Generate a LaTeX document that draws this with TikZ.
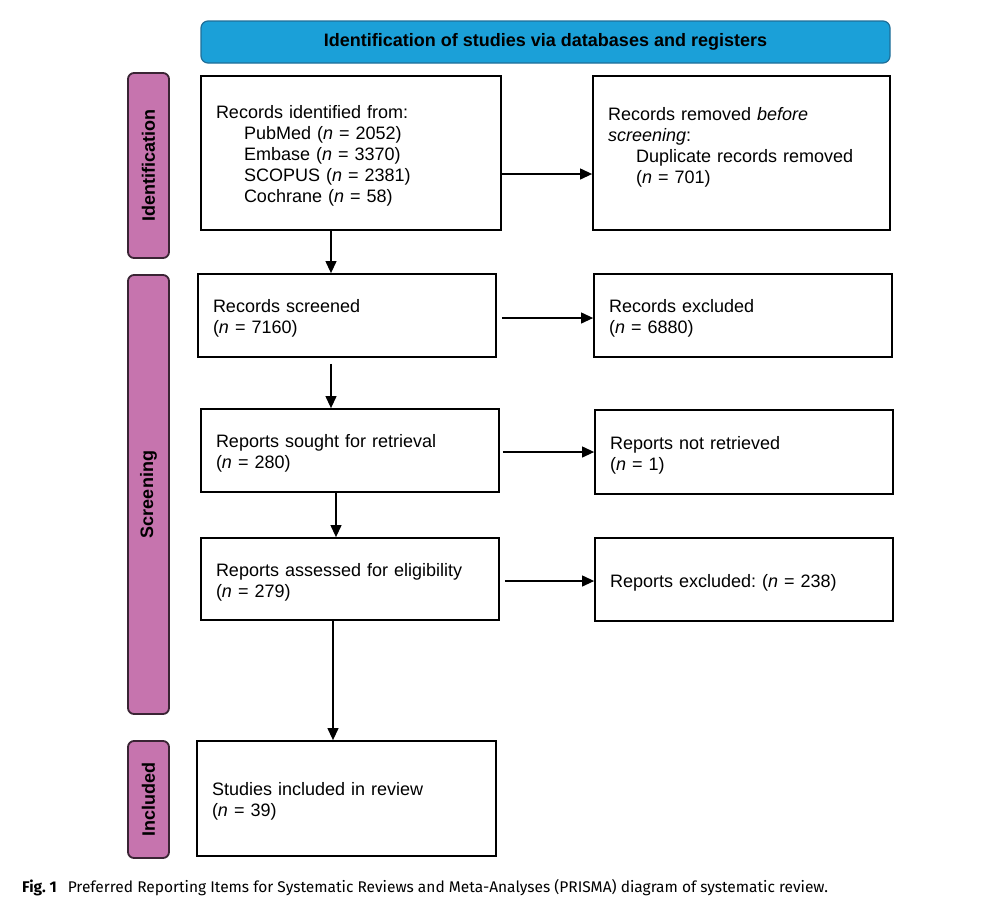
\documentclass[tikz,border=0pt]{standalone}
\usepackage{fontspec}
\setmainfont{Liberation Sans}
\newfontfamily\capfont{Fira Sans}
\usetikzlibrary{arrows.meta}
\definecolor{bannerblue}{HTML}{1BA0D8}
\definecolor{bannerline}{HTML}{1F6E98}
\definecolor{sidepurple}{HTML}{C674AE}
\definecolor{sideline}{HTML}{3A2434}
\frenchspacing
\tikzset{
  box/.style={draw=black, line width=1.8pt, fill=white, inner xsep=15pt, inner ysep=0pt,
    align=left, font=\fontsize{18}{21}\selectfont},
  side/.style={draw=sideline, line width=1.8pt, fill=sidepurple, rounded corners=6pt,
    minimum height=41pt, inner sep=0pt, rotate=90, font=\fontsize{18}{21}\selectfont\bfseries},
  banner/.style={draw=bannerline, line width=1.2pt, fill=bannerblue, rounded corners=7pt,
    minimum width=689pt, minimum height=42pt, inner sep=0pt, font=\fontsize{18}{21}\selectfont\bfseries},
  arr/.style={line width=1.2pt, -{Triangle[length=12pt,width=11pt]}},
}
\newcommand{\ind}{\hspace*{28pt}}
\newcommand{\tp}{\rule{0pt}{19.5pt}}
\begin{document}
\begin{tikzpicture}[x=1pt,y=-1pt]
\useasboundingbox (0,0) rectangle (988,914);
% banner
\node[banner] (ban) at (545.5,42) {Identification of studies via databases and registers};
% side labels
\node[side, minimum width=185pt] (sid) at (148.5,165.5) {Identification};
\node[side, minimum width=439pt] (sscr) at (148.5,494.5) {Screening};
\node[side, minimum width=117pt] (sinc) at (148.5,799.5) {Included};
% boxes
\node[box, text width=270pt, minimum height=154pt] (b1) at (351,153)
  {\tp Records identified from:\\
   \ind PubMed (\textit{n} = 2052)\\
   \ind Embase (\textit{n} = 3370)\\
   \ind SCOPUS (\textit{n} = 2381)\\
   \ind Cochrane (\textit{n} = 58)};
\node[box, text width=267pt, minimum height=154pt] (b2) at (741.5,153)
  {\tp Records removed \textit{before}\\
   \textit{screening}:\\
   \ind Duplicate records removed\\
   \ind (\textit{n} = 701)\\ \mbox{}};
\node[box, text width=268pt, minimum height=83pt] (b3) at (347,315.5)
  {\tp Records screened\\(\textit{n} = 7160)};
\node[box, text width=268pt, minimum height=83pt] (b4) at (743,315.5)
  {\tp Records excluded\\(\textit{n} = 6880)};
\node[box, text width=268pt, minimum height=83pt] (b5) at (350,450.5)
  {\tp Reports sought for retrieval\\(\textit{n} = 280)};
\node[box, text width=268pt, minimum height=84pt] (b6) at (744,452)
  {\tp Reports not retrieved\\(\textit{n} = 1)};
\node[box, text width=268pt, minimum height=82pt] (b7) at (350,579)
  {\tp Reports assessed for eligibility\\(\textit{n} = 279)};
\node[box, text width=268pt, minimum height=83pt] (b8) at (744,579.5)
  {\tp Reports excluded: (\textit{n} = 238)};
\node[box, text width=269pt, minimum height=115pt] (b9) at (346.5,798.5)
  {\tp Studies included in review\\(\textit{n} = 39)};
% horizontal arrows
\draw[arr] ([yshift=-21pt]b1.east) -- ([yshift=-21pt]b1.east -| b2.west);
\draw[arr, shorten <=5pt] ([yshift=-2.5pt]b3.east) -- ([yshift=-2.5pt]b3.east -| b4.west);
\draw[arr, shorten <=3pt] ([yshift=-1.5pt]b5.east) -- ([yshift=-1.5pt]b5.east -| b6.west);
\draw[arr, shorten <=5pt] ([yshift=-2pt]b7.east) -- ([yshift=-2pt]b7.east -| b8.west);
% vertical arrows
\draw[arr] ([xshift=-20pt]b1.south) -- ([xshift=-20pt]b1.south |- b3.north);
\draw[arr, shorten <=6pt] ([xshift=-16pt]b3.south) -- ([xshift=-16pt]b3.south |- b5.north);
\draw[arr] ([xshift=-14pt]b5.south) -- ([xshift=-14pt]b5.south |- b7.north);
\draw[arr] ([xshift=-17pt]b7.south) -- ([xshift=-17pt]b7.south |- b9.north);
% caption
\node[anchor=base west, inner sep=0pt, font=\capfont\fontsize{15.5}{18}\selectfont] (cap) at (22,892)
  {\textbf{Fig.~1}\hspace{11pt}Preferred Reporting Items for Systematic Reviews and Meta-Analyses (PRISMA) diagram of systematic review.};
\end{tikzpicture}
\end{document}
